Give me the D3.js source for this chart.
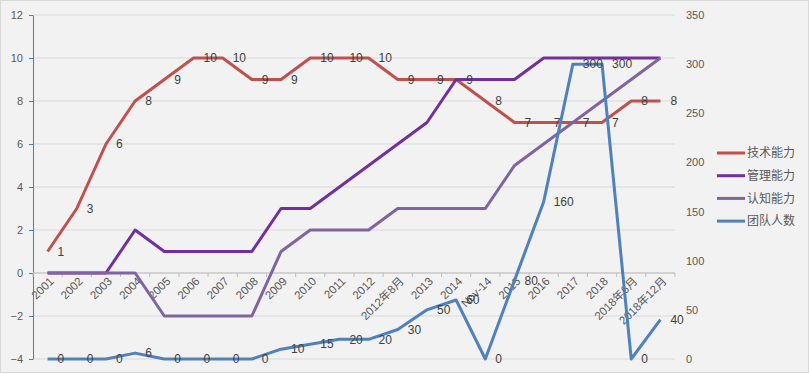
<!DOCTYPE html>
<html>
<head>
<meta charset="utf-8">
<title>能力与团队人数</title>
<script src="https://cdn.jsdelivr.net/npm/d3@7/dist/d3.min.js"></script>
<style>
	body{margin:0;background:#fff;}
	svg text{font-family:"Liberation Sans","Noto Sans CJK SC",sans-serif;}
</style>
</head>
<body>
<script>
	// 数据
	var categories = ["2001","2002","2003","2004","2005","2006","2007","2008","2009","2010","2011","2012","2012年8月","2013","2014","Nov-14","2015","2016","2017","2018","2018年6月","2018年12月"];
	var jishu   = [1,3,6,8,9,10,10,9,9,10,10,10,9,9,9,8,7,7,7,7,8,8];
	var guanli  = [0,0,0,2,1,1,1,1,3,3,4,5,6,7,9,9,9,10,10,10,10,10];
	var renzhi  = [0,0,0,0,-2,-2,-2,-2,1,2,2,2,3,3,3,3,5,6,7,8,9,10];
	var renshu  = [0,0,0,6,0,0,0,0,10,15,20,20,30,50,60,0,80,160,300,300,0,40];
	var leftTicks = [-4,-2,0,2,4,6,8,10,12];
	var rightTicks = [0,50,100,150,200,250,300,350];

	var series = [
		{name:"技术能力", values:jishu, color:"#C0504D", axis:"left", label:true},
		{name:"管理能力", values:guanli, color:"#7030A0", axis:"left", label:false},
		{name:"认知能力", values:renzhi, color:"#8064A2", axis:"left", label:false},
		{name:"团队人数", values:renshu, color:"#4F81BD", axis:"right", label:true}
	];

	var W = 809, H = 374;
	var svg = d3.select("body").append("svg")
		.attr("width",W).attr("height",H);

	svg.append("rect")
		.attr("x",0.5).attr("y",0.5)
		.attr("width",W-1).attr("height",H-2)
		.attr("fill","#F2F2F2").attr("stroke","#D9D9D9");

	//比例尺
	var x = d3.scalePoint().domain(categories).range([33,675]).padding(0.5);
	var yL = d3.scaleLinear().domain([-4,12]).range([359,15]);
	var yR = d3.scaleLinear().domain([0,350]).range([359,15]);

	//网格线
	svg.append("g").selectAll("line").data(leftTicks).enter().append("line")
		.attr("x1",33).attr("x2",675)
		.attr("y1",function(d){return yL(d);})
		.attr("y2",function(d){return yL(d);})
		.attr("stroke","#D9D9D9").attr("stroke-width",1);

	//左轴
	var gL = svg.append("g").attr("transform","translate(33,0)")
		.call(d3.axisLeft(yL).tickValues(leftTicks).tickSize(4).tickPadding(6).tickSizeOuter(0));
	gL.select(".domain").attr("stroke","#4A7EBB");
	gL.selectAll(".tick line").attr("stroke","#4A7EBB");
	gL.selectAll("text").attr("fill","#595959").style("font-size","11px");

	//右轴
	var gR = svg.append("g").attr("transform","translate(675,0)")
		.call(d3.axisRight(yR).tickValues(rightTicks).tickSize(0).tickPadding(11));
	gR.select(".domain").remove();
	gR.selectAll("text").attr("fill","#595959").style("font-size","11px");

	//类别轴
	var step = x.step();
	var gX = svg.append("g").attr("transform","translate(0,"+yL(0)+")");
	gX.append("line").attr("x1",33).attr("x2",675).attr("stroke","#BFBFBF");
	gX.selectAll(".tk").data(d3.range(categories.length+1)).enter().append("line")
		.attr("x1",function(i){return 33+i*step;})
		.attr("x2",function(i){return 33+i*step;})
		.attr("y1",0).attr("y2",4).attr("stroke","#BFBFBF");
	gX.selectAll("text").data(categories).enter().append("text")
		.attr("text-anchor","end")
		.attr("dy","0.35em")
		.attr("transform",function(d){return "translate("+(x(d)+4)+",6) rotate(-45)";})
		.attr("fill","#595959").style("font-size","11.5px")
		.text(function(d){return d;});

	//折线
	series.forEach(function(s){
		var y = s.axis=="left" ? yL : yR;
		var line = d3.line()
			.x(function(d,i){return x(categories[i]);})
			.y(function(d){return y(d);});
		svg.append("path").datum(s.values)
			.attr("d",line)
			.attr("fill","none")
			.attr("stroke",s.color)
			.attr("stroke-width",3)
			.attr("stroke-linejoin","round");
	});

	//数据标签
	series.forEach(function(s){
		if(!s.label) return;
		var y = s.axis=="left" ? yL : yR;
		svg.append("g").selectAll("text").data(s.values).enter().append("text")
			.attr("x",function(d,i){return x(categories[i])+10;})
			.attr("y",function(d){return y(d);})
			.attr("dy","0.35em")
			.attr("fill","#404040").style("font-size","12px")
			.text(function(d){return d;});
	});

	//图例
	var lg = svg.append("g").selectAll("g").data(series).enter().append("g")
		.attr("transform",function(d,i){return "translate(717,"+(153+i*22.7)+")";});
	lg.append("line").attr("x1",0).attr("x2",28)
		.attr("stroke",function(d){return d.color;}).attr("stroke-width",3);
	lg.append("text").attr("x",30).attr("dy","0.35em")
		.attr("fill","#595959").style("font-size","12px")
		.text(function(d){return d.name;});
</script>
</body>
</html>
